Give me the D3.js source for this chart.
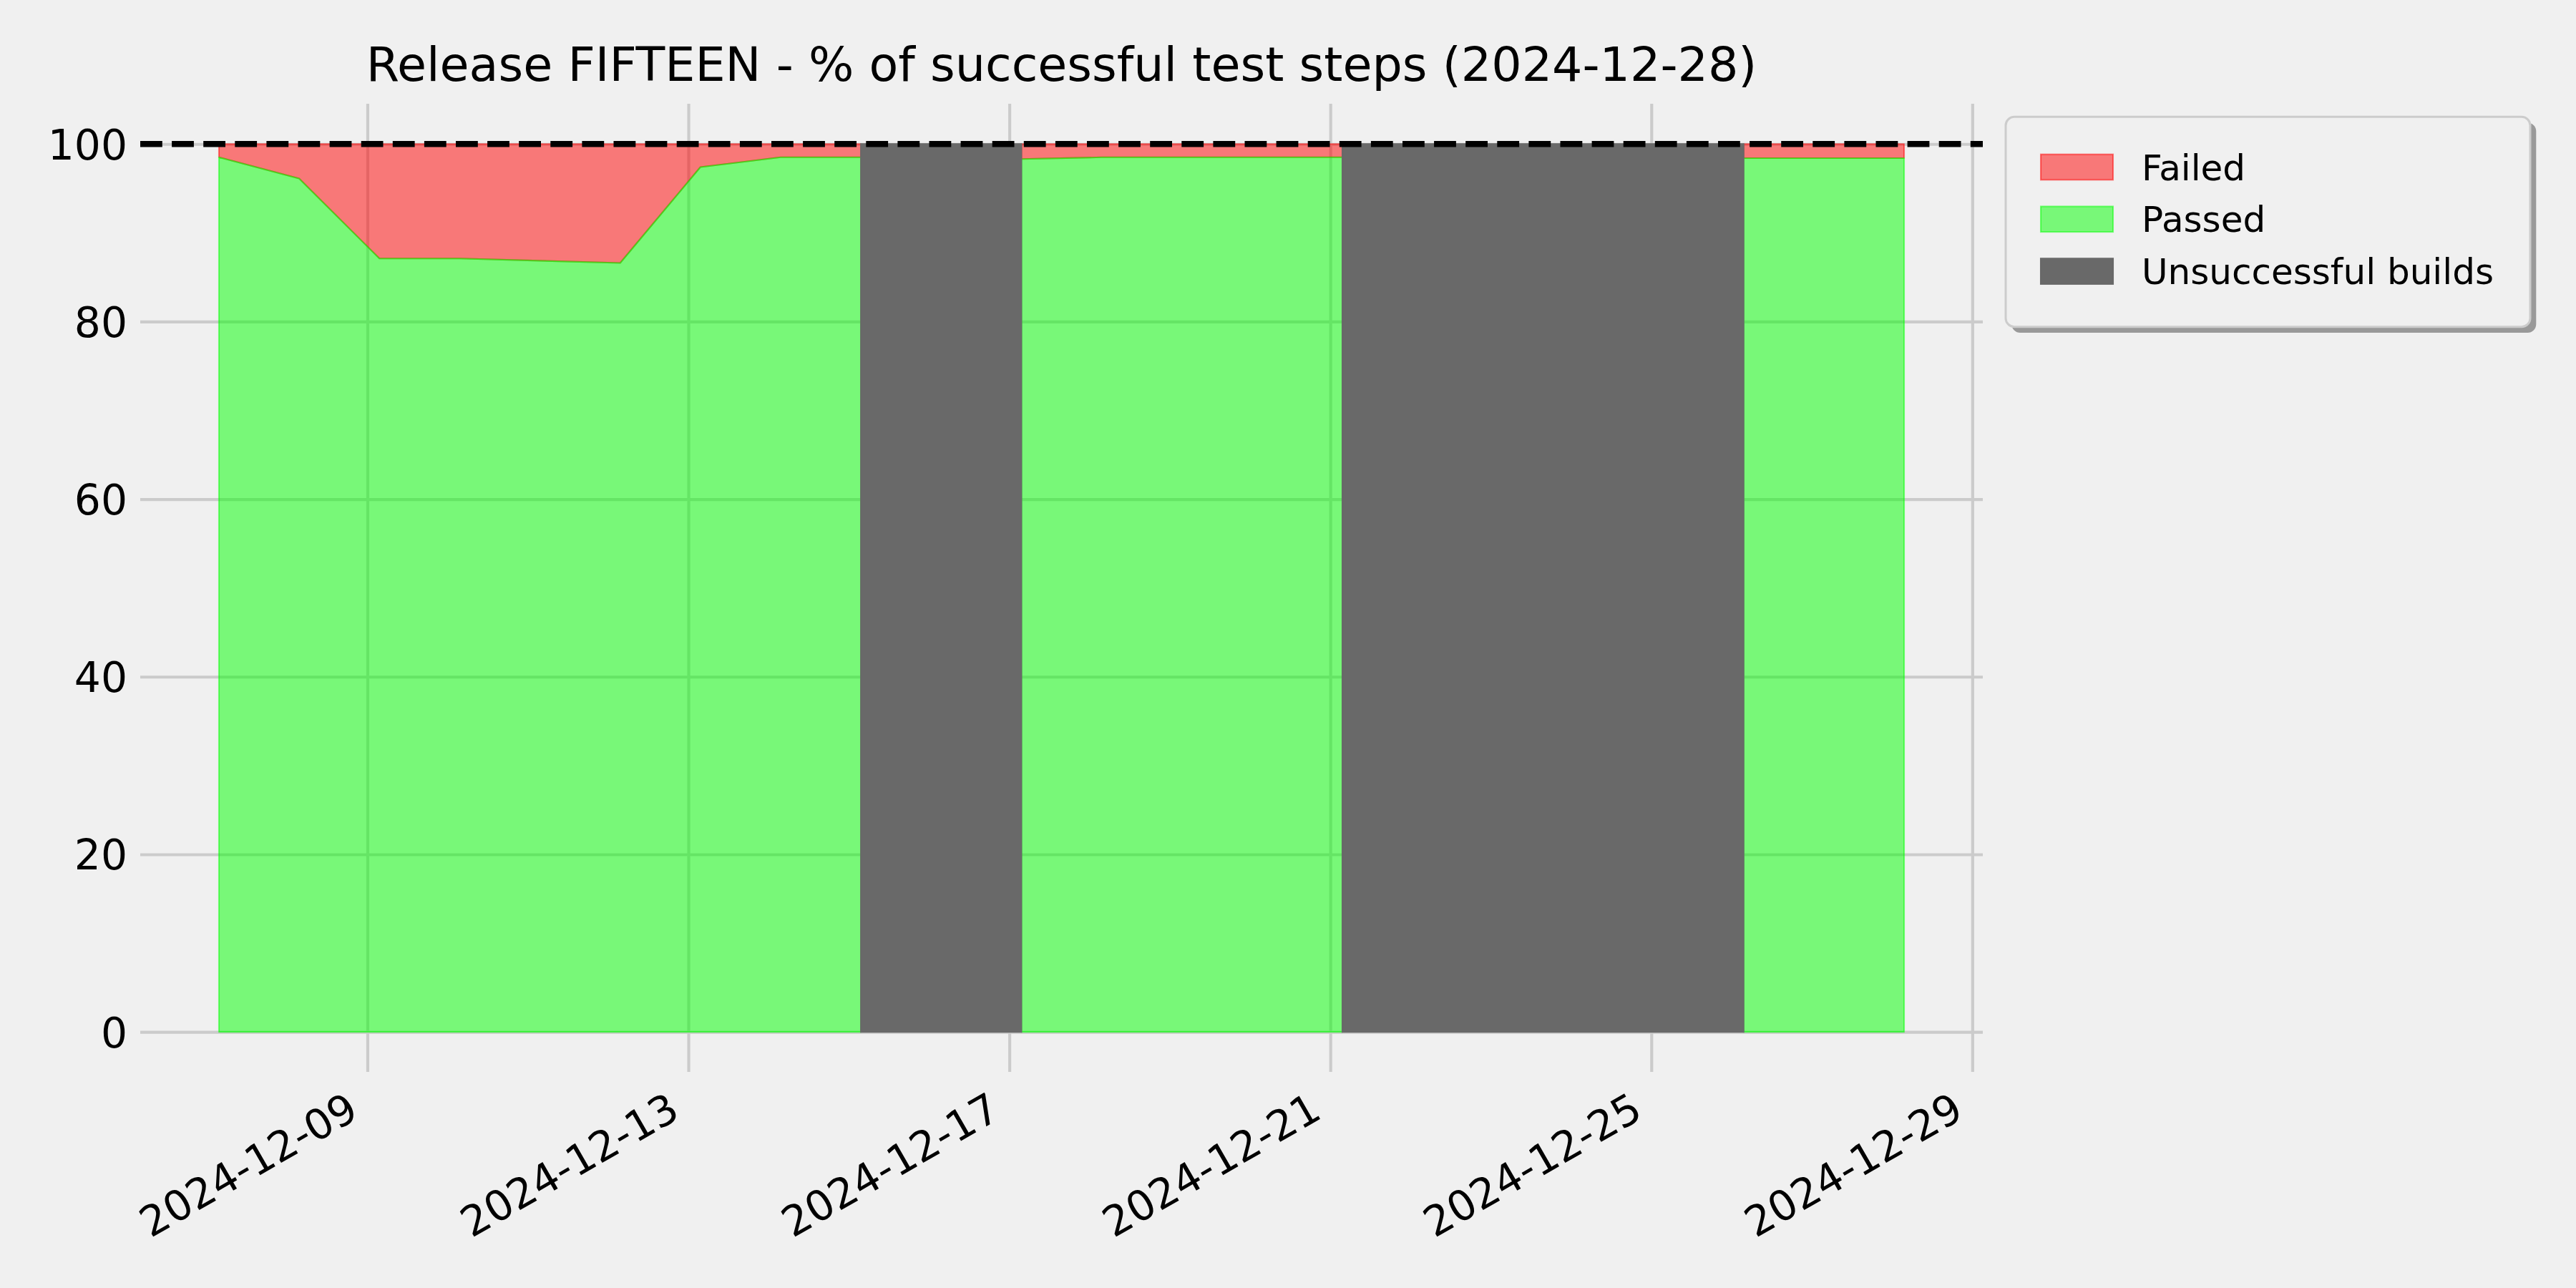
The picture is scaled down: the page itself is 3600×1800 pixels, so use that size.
<!DOCTYPE html>
<html><head><meta charset="utf-8">
<script src="https://cdn.jsdelivr.net/npm/d3@7"></script>
<style>
body{margin:0;background:#f0f0f0;}
text{font-family:"DejaVu Sans",sans-serif;fill:#000;}
</style>
</head><body>
<svg id="chart" width="3600" height="1800"></svg>
<script>
// ---------------- data ----------------
const chartTitle = "Release FIFTEEN - % of successful test steps (2024-12-28)";
const runDates = [
  "2024-12-07T03:36","2024-12-08T03:36","2024-12-09T03:36","2024-12-10T03:36",
  "2024-12-11T03:36","2024-12-12T03:36","2024-12-13T03:36","2024-12-14T03:36",
  "2024-12-15T03:36","2024-12-16T03:36","2024-12-17T03:36","2024-12-18T03:36",
  "2024-12-19T03:36","2024-12-20T03:36","2024-12-21T03:36","2024-12-22T03:36",
  "2024-12-23T03:36","2024-12-24T03:36","2024-12-25T03:36","2024-12-26T03:36",
  "2024-12-27T03:36","2024-12-28T03:36"
];
// null = unsuccessful build (no test results)
const passedPct = [98.5, 96.1, 87.1, 87.1, 86.85, 86.6, 97.4, 98.5,
                   98.5, null, 98.3, 98.5, 98.5, 98.5, 98.5, null,
                   null, null, null, 98.4, 98.4, 98.4];
const failedPct = [1.5, 3.9, 12.9, 12.9, 13.15, 13.4, 2.6, 1.5,
                   1.5, null, 1.7, 1.5, 1.5, 1.5, 1.5, null,
                   null, null, null, 1.6, 1.6, 1.6];
const yTickValues = [0, 20, 40, 60, 80, 100];
const xTickLabels = ["2024-12-09","2024-12-13","2024-12-17","2024-12-21","2024-12-25","2024-12-29"];
const legendLabels = ["Failed", "Passed", "Unsuccessful builds"];
const targetLevel = 100;

// ---------------- layout ----------------
const W = 3600, H = 1800;
const L = 196, R = 2771, T = 145, B = 1498;
const BG = "#f0f0f0", GRID = "#cbcbcb";
const tickFont = 58.3, titleFont = 66.7, legendFont = 50;

const parseT = d3.utcParse("%Y-%m-%dT%H:%M");
const parseD = d3.utcParse("%Y-%m-%d");
const fmtD = d3.utcFormat("%Y-%m-%d");
const dates = runDates.map(parseT);
const rows = dates.map((d, i) => ({date: d, passed: passedPct[i], failed: failedPct[i]}));

const t0 = d3.min(dates), t1 = d3.max(dates);
const pad = (t1 - t0) * 0.0467;
const x = d3.scaleUtc().domain([new Date(+t0 - pad), new Date(+t1 + pad)]).range([L, R]);
const y = d3.scaleLinear().domain([-4.5, 104.53]).range([B, T]);

const svg = d3.select("#chart");
svg.append("rect").attr("width", W).attr("height", H).attr("fill", BG);

// gridlines
const xTicks = xTickLabels.map(parseD);
const gx = svg.append("g").attr("transform", `translate(0,${B})`)
  .call(d3.axisBottom(x).tickValues(xTicks).tickSize(-(B - T)).tickFormat(""));
const gy = svg.append("g").attr("transform", `translate(${L},0)`)
  .call(d3.axisLeft(y).tickValues(yTickValues).tickSize(-(R - L)).tickFormat(""));
[gx, gy].forEach(g => {
  g.select(".domain").remove();
  g.selectAll(".tick line").attr("stroke", GRID).attr("stroke-width", 4.17);
});

// areas
const def = d => d.passed !== null && d.failed !== null;
const failedArea = d3.area().defined(def)
  .x(d => x(d.date)).y0(d => y(d.passed)).y1(d => y(d.passed + d.failed));
const passedArea = d3.area().defined(def)
  .x(d => x(d.date)).y0(() => y(0)).y1(d => y(d.passed));

svg.append("path").attr("d", failedArea(rows))
  .attr("fill", "red").attr("fill-opacity", 0.5)
  .attr("stroke", "red").attr("stroke-opacity", 0.5).attr("stroke-width", 2.08)
  .attr("stroke-linejoin", "round");
svg.append("path").attr("d", passedArea(rows))
  .attr("fill", "lime").attr("fill-opacity", 0.5)
  .attr("stroke", "lime").attr("stroke-opacity", 0.5).attr("stroke-width", 2.08)
  .attr("stroke-linejoin", "round");

// unsuccessful build spans (from last good run to next good run)
const spans = [];
for (let i = 0; i < rows.length; i++) {
  if (!def(rows[i])) {
    let j = i;
    while (j + 1 < rows.length && !def(rows[j + 1])) j++;
    spans.push([rows[Math.max(i - 1, 0)].date, rows[Math.min(j + 1, rows.length - 1)].date]);
    i = j;
  }
}
svg.append("g").selectAll("rect").data(spans).join("rect")
  .attr("x", d => x(d[0])).attr("width", d => x(d[1]) - x(d[0]))
  .attr("y", y(100)).attr("height", y(0) - y(100))
  .attr("fill", "dimgray").attr("stroke", "dimgray").attr("stroke-width", 2.08);

// target dashed line
svg.append("line")
  .attr("x1", L).attr("x2", R).attr("y1", y(targetLevel)).attr("y2", y(targetLevel))
  .attr("stroke", "#000").attr("stroke-width", 8.33)
  .attr("stroke-dasharray", "30.8,13.3");

// y tick labels
svg.append("g").selectAll("text").data(yTickValues).join("text")
  .attr("x", 178).attr("y", d => y(d) + 21.5)
  .attr("text-anchor", "end").attr("font-size", tickFont)
  .text(d => d);

// x tick labels (rotated 30°)
svg.append("g").selectAll("text").data(xTicks).join("text")
  .attr("transform", d => `translate(${x(d) - 9.5},1561) rotate(-30)`)
  .attr("text-anchor", "end").attr("font-size", tickFont)
  .text(d => fmtD(d));

// title
svg.append("text").attr("x", (L + R) / 2).attr("y", 112.7)
  .attr("text-anchor", "middle").attr("font-size", titleFont)
  .text(chartTitle);

// legend
const lg = svg.append("g");
const lx = 2803, ly = 163.3, lw = 733, lh = 293.4;
lg.append("rect").attr("x", lx + 8.3).attr("y", ly + 8.3).attr("width", lw).attr("height", lh)
  .attr("rx", 12).attr("fill", "#999999");
lg.append("rect").attr("x", lx).attr("y", ly).attr("width", lw).attr("height", lh)
  .attr("rx", 12).attr("fill", BG).attr("stroke", "#cccccc").attr("stroke-width", 3);
const legendStyles = [
  {fill: "red", fo: 0.5, stroke: "red", so: 0.5},
  {fill: "lime", fo: 0.5, stroke: "lime", so: 0.5},
  {fill: "dimgray", fo: 1, stroke: "dimgray", so: 1}
];
legendLabels.forEach((lab, i) => {
  const cy = 233.5 + i * 72.8;
  const s = legendStyles[i];
  lg.append("rect").attr("x", 2852).attr("y", cy - 17.8).attr("width", 101).attr("height", 35.6)
    .attr("fill", s.fill).attr("fill-opacity", s.fo)
    .attr("stroke", s.stroke).attr("stroke-opacity", s.so).attr("stroke-width", 2.08);
  lg.append("text").attr("x", 2993).attr("y", cy + 18)
    .attr("font-size", legendFont).text(lab);
});
</script>
</body></html>
